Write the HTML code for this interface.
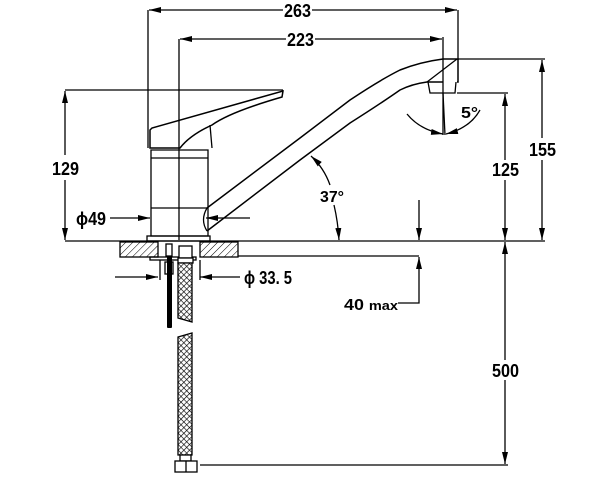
<!DOCTYPE html>
<html><head><meta charset="utf-8"><style>html,body{margin:0;padding:0;background:#fff}svg{display:block}</style></head>
<body>
<svg width="600" height="500" viewBox="0 0 600 500" xmlns="http://www.w3.org/2000/svg" font-family="'Liberation Sans',sans-serif" font-weight="bold">
<defs>
<pattern id="h" width="5" height="5" patternUnits="userSpaceOnUse" patternTransform="rotate(45)"><line x1="0" y1="0" x2="0" y2="5" stroke="#000" stroke-width="1"/></pattern>
<pattern id="x" width="4" height="4" patternUnits="userSpaceOnUse" patternTransform="rotate(45)"><rect width="4" height="4" fill="#fff"/><path d="M0 0H4M0 0V4" stroke="#000" stroke-width="1.3"/></pattern>
<marker id="a" markerWidth="12" markerHeight="6" refX="12" refY="3" orient="auto" markerUnits="userSpaceOnUse"><path d="M0 0L12 3L0 6Z" fill="#000"/></marker>
</defs>
<g stroke="#000" stroke-width="1.3" fill="none">
<line x1="148" y1="10" x2="148" y2="148"/><line x1="458" y1="10" x2="458" y2="60"/>
<line x1="283" y1="10" x2="149" y2="10" marker-end="url(#a)"/><line x1="312" y1="10" x2="457" y2="10" marker-end="url(#a)"/>
<line x1="179" y1="39" x2="179" y2="240"/><line x1="443" y1="37" x2="443" y2="135"/>
<line x1="286" y1="39" x2="180" y2="39" marker-end="url(#a)"/><line x1="315" y1="39" x2="442" y2="39" marker-end="url(#a)"/>
<line x1="65" y1="90" x2="283" y2="90"/>
<line x1="65" y1="155" x2="65" y2="91" marker-end="url(#a)"/><line x1="65" y1="180" x2="65" y2="240" marker-end="url(#a)"/>
<line x1="65" y1="241" x2="545" y2="241"/>
<line x1="238" y1="256" x2="419" y2="256"/>
<line x1="200" y1="465" x2="508" y2="465"/>
<path d="M150 130 L152 128 L283 91 L282 97 Q230 112 212 125 Q190 135 180 148 L150 148 Z" stroke-width="1.5"/>
<path d="M210 125 L212 148"/>
<path d="M151 150 L208 150 L208 236 L151 236 Z"/>
<line x1="151" y1="158" x2="208" y2="158"/><line x1="151" y1="208" x2="208" y2="208"/>
<rect x="147" y="236" width="63" height="5"/>
<path d="M207 208 L300 138 L350 100 Q380 80 400 70 Q420 62 443 59 L458 59 L458 82 L457 82" stroke-width="1.5"/>
<path d="M207 231 L300 160 L350 123 Q380 104 400 90 Q412 84 427 82 L443 82" stroke-width="1.5"/>
<path d="M207 208 Q200 220 207 231"/>
<path d="M427 82 L457 59"/>
<path d="M428 82 L430 93 L455 93 L456 82"/>
<line x1="458" y1="59" x2="545" y2="59"/>
<line x1="542" y1="138" x2="542" y2="60" marker-end="url(#a)"/><line x1="542" y1="160" x2="542" y2="240" marker-end="url(#a)"/>
<line x1="457" y1="93" x2="508" y2="93"/>
<line x1="505" y1="160" x2="505" y2="94" marker-end="url(#a)"/><line x1="505" y1="180" x2="505" y2="240" marker-end="url(#a)"/>
<line x1="505" y1="360" x2="505" y2="242" marker-end="url(#a)"/><line x1="505" y1="380" x2="505" y2="464" marker-end="url(#a)"/>
<line x1="443" y1="93" x2="445" y2="135"/>
<path d="M407 114 Q420 130 443 134" marker-end="url(#a)"/>
<path d="M480 110 Q470 128 446 134" marker-end="url(#a)"/>
<path d="M330 185 Q324 168 311 156" marker-end="url(#a)"/>
<path d="M334 205 Q338 222 339 240" marker-end="url(#a)"/>
<line x1="419" y1="200" x2="419" y2="240" marker-end="url(#a)"/>
<path d="M398 303 L419 303 L419 257" marker-end="url(#a)"/>
<line x1="110" y1="218" x2="150" y2="218" marker-end="url(#a)"/>
<line x1="250" y1="218" x2="206" y2="218" marker-end="url(#a)"/>
<rect x="120" y="242" width="38" height="15" fill="url(#h)"/>
<rect x="200" y="242" width="38" height="15" fill="url(#h)"/>
<rect x="150" y="257" width="46" height="3"/>
<line x1="160" y1="260" x2="160" y2="280"/><line x1="200" y1="260" x2="200" y2="280"/>
<line x1="115" y1="277" x2="158" y2="277" marker-end="url(#a)"/>
<line x1="240" y1="277" x2="200" y2="277" marker-end="url(#a)"/>
<rect x="166" y="244" width="6" height="12" fill="#fff"/>
<rect x="165" y="262" width="8" height="12" fill="#fff"/>
<rect x="167" y="256" width="5" height="72" fill="#000" stroke="none" rx="1"/>
<rect x="179" y="246" width="13" height="12" fill="#fff"/>
<rect x="178" y="258" width="15" height="5" fill="#fff"/>
<path d="M178 263 L192 263 L192 322 L178 318 Z" fill="url(#x)"/>
<path d="M178 337 L192 333 L192 455 L178 455 Z" fill="url(#x)"/>
<rect x="180" y="455" width="11" height="6" fill="#fff"/>
<rect x="175" y="461" width="22" height="11" fill="#fff"/>
<line x1="186" y1="461" x2="186" y2="472"/>
</g>
<g font-size="18" fill="#000" lengthAdjust="spacingAndGlyphs">
<text x="284" y="17" textLength="27" lengthAdjust="spacingAndGlyphs">263</text>
<text x="287" y="46" textLength="27" lengthAdjust="spacingAndGlyphs">223</text>
<text x="52" y="175" textLength="27" lengthAdjust="spacingAndGlyphs">129</text>
<text x="76" y="225" textLength="30" lengthAdjust="spacingAndGlyphs">ϕ49</text>
<text x="244" y="284" textLength="48" lengthAdjust="spacingAndGlyphs">ϕ 33. 5</text>
<text x="529" y="156" textLength="27" lengthAdjust="spacingAndGlyphs">155</text>
<text x="492" y="176" textLength="27" lengthAdjust="spacingAndGlyphs">125</text>
<text x="492" y="377" textLength="27" lengthAdjust="spacingAndGlyphs">500</text>
<text x="320" y="202" font-size="16" textLength="24" lengthAdjust="spacingAndGlyphs">37°</text>
<text x="461" y="118" font-size="16" textLength="17" lengthAdjust="spacingAndGlyphs">5°</text>
<text x="344" y="310" font-size="16" textLength="54" lengthAdjust="spacingAndGlyphs">40 <tspan font-size="13">max</tspan></text>
</g>
</svg>
</body></html>
